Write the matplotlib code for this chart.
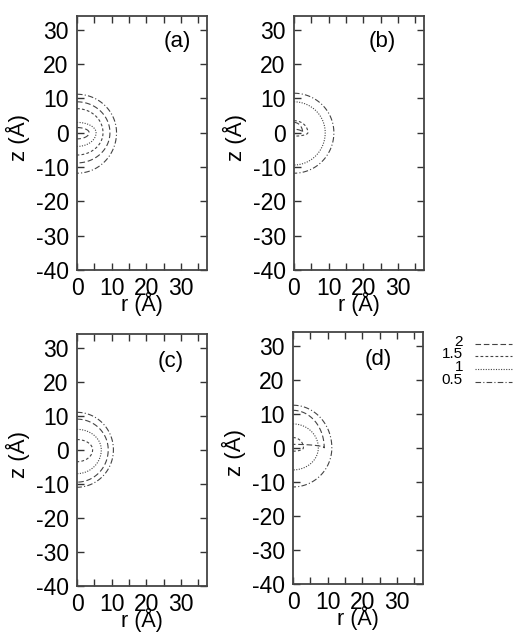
import numpy as np
import matplotlib
matplotlib.use("Agg")
import matplotlib.pyplot as plt
from matplotlib.lines import Line2D

plt.rcParams['font.family'] = ['Liberation Sans', 'DejaVu Sans']
plt.rcParams['axes.unicode_minus'] = False

# contour levels and styles
levels = ["2", "1.5", "1", "0.5"]
level_styles = {"2": (0, (5, 2.5)), "1.5": (0, (2.5, 2)), "1": (0, (1, 1.3)), "0.5": (0, (5, 2, 1, 2))}

# per panel: contour curves as (level, radial extent, top z, bottom z) in Å
panel_names = ["(a)", "(b)", "(c)", "(d)"]
curves_a = [("0.5", 11.4, 11.2, -11.8), ("2", 9.5, 9.0, -8.8), ("1.5", 7.5, 7.0, -6.5), ("1", 5.5, 3.0, -4.0), ("2", 3.5, 1.5, -1.8)]
curves_b = [("0.5", 11.5, 11.5, -11.8), ("1", 9.0, 9.0, -9.4), ("1.5", 4.0, 3.5, -1.0), ("2", 2.5, 3.0, 1.0)]
curves_c = [("0.5", 10.5, 11.0, -11.0), ("2", 9.0, 9.0, -9.5), ("1", 7.0, 6.0, -7.0), ("1.5", 4.5, 3.0, -3.5)]
curves_d = [("0.5", 11.2, 12.5, -11.5), ("2", 9.0, 11.0, 1.0), ("1", 7.3, 7.0, -6.5), ("1.5", 3.0, 3.0, -1.0)]
panel_curves = [curves_a, curves_b, curves_c, curves_d]
label_pos = [(29.0, 26.5), (25.6, 26.5), (27.0, 26.0), (24.5, 26.0)]

x_major = [0, 10, 20, 30]
y_major = [30, 20, 10, 0, -10, -20, -30, -40]

W, H = 513, 632
fig = plt.figure(figsize=(W / 100, H / 100), dpi=100)

# axes rectangles in pixels: left, right, top, bottom
rects = [(77, 207, 16, 270), (294, 424, 16, 270), (77, 207, 334, 586), (293, 423, 332, 584)]

for i, (l, r, t, b) in enumerate(rects):
    ax = fig.add_axes([l / W, 1 - b / H, (r - l) / W, (b - t) / H])
    ax.set_xlim(0, 37.5)
    ax.set_ylim(-40, 34)
    for lev, a, zt, zb in panel_curves[i]:
        th = np.linspace(0, np.pi / 2, 60)
        rr = np.concatenate([(a * np.cos(th))[::-1], a * np.cos(th)])
        zz = np.concatenate([(zt * np.sin(th))[::-1], zb * np.sin(th)])
        ax.plot(rr, zz, color="#444444", lw=0.8, linestyle=level_styles[lev])
    ax.set_xticks(x_major)
    ax.set_xticks([5, 15, 25, 35], minor=True)
    ax.set_yticks(y_major)
    ax.tick_params(axis="both", which="both", direction="in", top=True, right=True,
                   length=5, width=1, labelsize=16.5, color="#333333")
    ax.tick_params(axis="x", which="both", pad=5)
    ax.tick_params(axis="y", which="both", pad=6)
    for s in ax.spines.values():
        s.set_color("#444444")
        s.set_linewidth(1.3)
    ax.set_xlabel("r (Å)", fontsize=15.5, labelpad=-6)
    ax.set_ylabel("z (Å)", fontsize=16)
    ax.yaxis.set_label_coords(-0.36, 0.52)
    ax.text(label_pos[i][0], label_pos[i][1], panel_names[i], fontsize=16, ha="center", va="center")

# manual legend at right of panel (d)
leg_y = [342, 354, 367, 380]
for lev, yp in zip(levels, leg_y):
    fig.text(463 / W, 1 - yp / H, lev, fontsize=11, ha="right", va="center")
    fig.add_artist(Line2D([475 / W, 512 / W], [1 - (yp + 2) / H] * 2, color="#444444", lw=0.8,
                          linestyle=level_styles[lev], transform=fig.transFigure))

fig.savefig("out.png", dpi=100)
